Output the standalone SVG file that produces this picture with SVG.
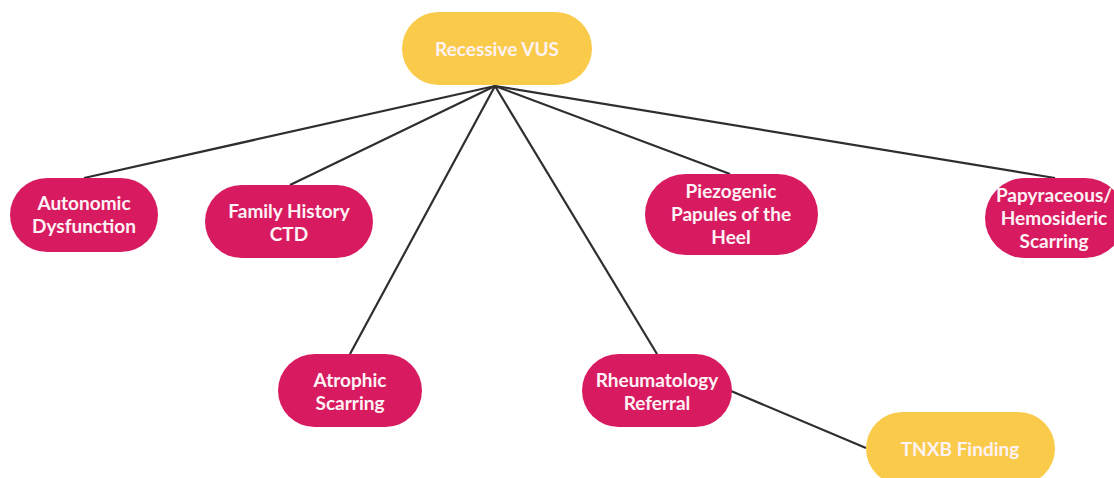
<svg xmlns="http://www.w3.org/2000/svg" width="1114" height="478" viewBox="0 0 1114 478">
<style>
.pink{fill:#D81B60}
.yellow{fill:#FACB4B}
.t{font-family:Lato,"Liberation Sans",sans-serif;font-weight:bold;font-size:19px;fill:#FDF2F5;text-anchor:middle}
.c line{stroke:#2E2E2E;stroke-width:2.2}
</style>
<rect width="1114" height="478" fill="#fff"/>
<g class="c" id="connectors">
<line x1="495" y1="86" x2="84" y2="178"/>
<line x1="495" y1="86" x2="290" y2="185"/>
<line x1="495" y1="86" x2="350" y2="354"/>
<line x1="495" y1="86" x2="657" y2="354"/>
<line x1="495" y1="86" x2="730" y2="174"/>
<line x1="495" y1="86" x2="1055" y2="178"/>
<line x1="731" y1="391" x2="866" y2="448"/>
</g>
<g id="recessive-vus"><rect class="yellow" x="402" y="12" width="190" height="73" rx="36.5"/><text class="t" x="497" y="56">Recessive VUS</text></g>
<g id="autonomic"><rect class="pink" x="10" y="178" width="148" height="74" rx="37"/><text class="t" x="84" y="210">Autonomic</text><text class="t" x="84" y="233">Dysfunction</text></g>
<g id="family"><rect class="pink" x="205" y="185" width="168" height="73" rx="36.5"/><text class="t" x="289" y="218">Family History</text><text class="t" x="289" y="241">CTD</text></g>
<g id="piezogenic"><rect class="pink" x="645" y="174" width="173" height="81" rx="40.5"/><text class="t" x="731" y="198">Piezogenic</text><text class="t" x="731" y="221">Papules of the</text><text class="t" x="731" y="244">Heel</text></g>
<g id="papyraceous"><rect class="pink" x="985" y="178" width="140" height="80" rx="40"/><text class="t" x="1054" y="202">Papyraceous/</text><text class="t" x="1054" y="225">Hemosideric</text><text class="t" x="1054" y="248">Scarring</text></g>
<g id="atrophic"><rect class="pink" x="278" y="354" width="144" height="73" rx="36.5"/><text class="t" x="350" y="387">Atrophic</text><text class="t" x="350" y="410">Scarring</text></g>
<g id="rheumatology"><rect class="pink" x="582" y="354" width="150" height="73" rx="36.5"/><text class="t" x="657" y="387">Rheumatology</text><text class="t" x="657" y="410">Referral</text></g>
<g id="tnxb"><rect class="yellow" x="866" y="412" width="189" height="73" rx="36.5"/><text class="t" x="960" y="456">TNXB Finding</text></g>
</svg>
